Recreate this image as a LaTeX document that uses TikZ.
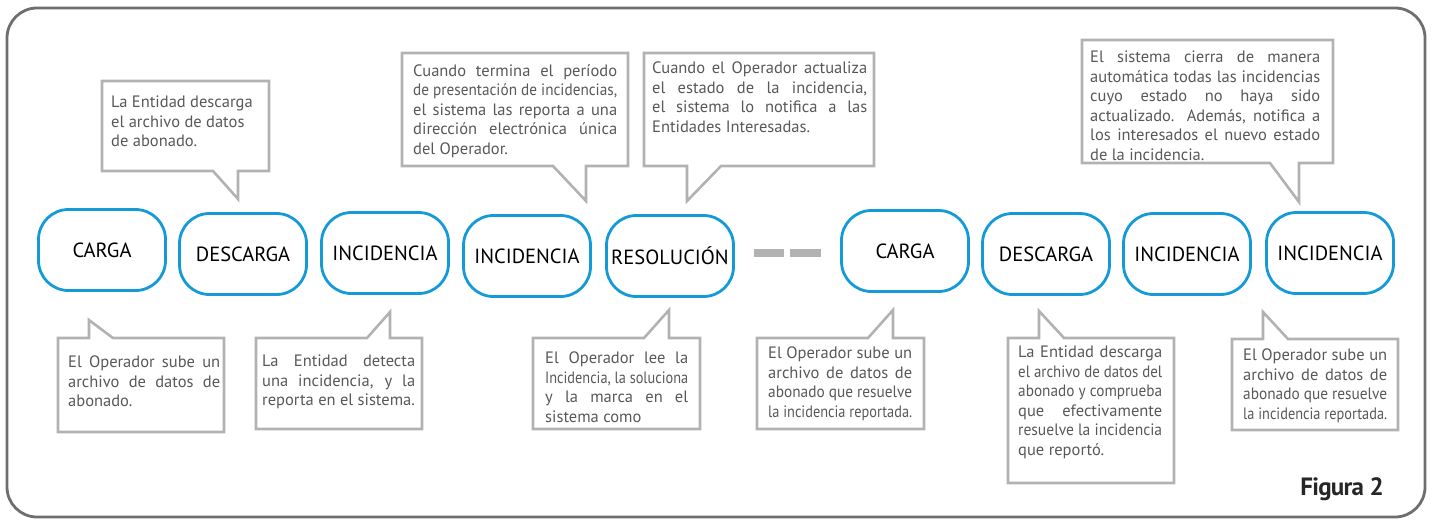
\documentclass[tikz,border=0pt]{standalone}
\usepackage{fontspec}
\setmainfont{PT Sans}
\newfontfamily\figfont[LetterSpace=-3]{PT Sans}
\usepackage{tikz}

\definecolor{azul}{RGB}{20,155,215}
\definecolor{gris}{RGB}{178,178,178}
\definecolor{marco}{RGB}{110,110,110}
\definecolor{textogris}{RGB}{88,88,88}
% un renglon justificado (se comprime si no cabe) y el ultimo renglon
\newsavebox{\cajalinea}
\newcommand{\linea}[1]{\sbox{\cajalinea}{#1}%
  \ifdim\wd\cajalinea>\hsize\resizebox{\hsize}{\height}{#1}\else\hbox to\hsize{#1}\fi\break}
\newcommand{\ultima}[1]{\hbox{#1}}

\begin{document}
\begin{tikzpicture}[x=1pt,y=-1pt]
\tikzstyle{every node}+=[inner sep=0pt]
\tikzstyle{etapa}=[draw=azul, line width=2.8pt, rounded corners=30pt, minimum width=127pt, minimum height=81pt, font=\fontsize{20.5}{24}\selectfont]
\tikzstyle{globo}=[draw=gris, line width=2.6pt, line join=miter]
\tikzstyle{nota}=[anchor=north west, text=textogris, align=justify, font=\fontsize{16.5}{19.5}\selectfont]
\useasboundingbox (0,0) rectangle (1432,520);
\draw [marco, line width=2.8pt, rounded corners=30pt] (7,8) rectangle (1425,517);
% etapas
\node [etapa] (carga1) at (102,250) {CARGA};
\node [etapa] (descarga1) at (243,254) {DESCARGA};
\node [etapa] (incid1) at (385,253) {INCIDENCIA};
\node [etapa] (incid2) at (527,256) {INCIDENCIA};
\node [etapa] (resol) at (670,256) {RESOLUCIÓN};
\node [etapa] (carga2) at (905,251) {CARGA};
\node [etapa] (descarga2) at (1046,254) {DESCARGA};
\node [etapa] (incid3) at (1187,254) {INCIDENCIA};
\node [etapa] (incid4) at (1330,253) {INCIDENCIA};
\draw [gris, line width=8pt] (754,253) -- (784,253);
\draw [gris, line width=8pt] (790,253) -- (821,253);
% globos de arriba
\draw [globo] (102,81) -- (269,81) -- (269,171) -- (238,171) -- (238,199) -- (213,171) -- (102,171) -- cycle;
\node [nota, text width=148pt] (notaA) at (111,96) {La Entidad descarga\\el archivo de datos\\de abonado.};
\draw [globo] (402,53) -- (628,53) -- (628,166) -- (586,166) -- (586,201) -- (553,166) -- (402,166) -- cycle;
\node [nota, text width=204pt] (notaB) at (413,64) {\linea{Cuando termina el período}\linea{de presentación de incidencias,}\linea{el sistema las reporta a una}\linea{dirección electrónica única}\ultima{del Operador.}};
\draw [globo] (644,53) -- (874,53) -- (874,166) -- (721,166) -- (687,201) -- (687,166) -- (644,166) -- cycle;
\node [nota, text width=215pt] (notaC) at (652,62) {\linea{Cuando el Operador actualiza}\linea{el estado de la incidencia,}\linea{el sistema lo notifica a las}\ultima{Entidades Interesadas.}};
\draw [globo] (1082,40) -- (1333,40) -- (1333,163) -- (1299,163) -- (1299,202) -- (1270,163) -- (1082,163) -- cycle;
\node [nota, text width=230pt] (notaD) at (1090,51) {\linea{El sistema cierra de manera}\linea{automática todas las incidencias}\linea{cuyo estado no haya sido}\linea{actualizado. Además, notifica a}\linea{los interesados el nuevo estado}\ultima{de la incidencia.}};
% globos de abajo
\draw [globo] (58,338) -- (89,338) -- (89,320) -- (113,338) -- (224,338) -- (224,432) -- (58,432) -- cycle;
\node [nota, text width=152pt] (notaE) at (68,356) {\linea{El Operador sube un}\linea{archivo de datos de}\ultima{abonado.}};
\draw [globo] (256,338) -- (367,338) -- (390,312) -- (390,338) -- (422,338) -- (422,429) -- (256,429) -- cycle;
\node [nota, text width=153pt] (notaF) at (262,355) {\linea{La Entidad detecta}\linea{una incidencia, y la}\ultima{reporta en el sistema.}};
\draw [globo] (533,338) -- (644,338) -- (669,310) -- (669,338) -- (700,338) -- (700,429) -- (533,429) -- cycle;
\node [nota, text width=143pt] (notaG) at (545,352) {\linea{El Operador lee la}\linea{Incidencia, la soluciona}\linea{y la marca en el}\ultima{sistema como}};
\draw [globo] (757,338) -- (868,338) -- (893,310) -- (893,338) -- (924,338) -- (924,429) -- (757,429) -- cycle;
\node [nota, text width=144pt] (notaH) at (768,347) {\linea{El Operador sube un}\linea{archivo de datos de}\linea{abonado que resuelve}\linea{la incidencia reportada.}};
\draw [globo] (1008,338) -- (1039,338) -- (1039,311) -- (1064,338) -- (1174,338) -- (1174,483) -- (1008,483) -- cycle;
\node [nota, text width=144pt] (notaI) at (1018,346) {\linea{La Entidad descarga}\linea{el archivo de datos del}\linea{abonado y comprueba}\linea{que efectivamente}\linea{resuelve la incidencia}\ultima{que reportó.}};
\draw [globo] (1232,339) -- (1263,339) -- (1263,312) -- (1288,339) -- (1398,339) -- (1398,430) -- (1232,430) -- cycle;
\node [nota, text width=144pt] (notaJ) at (1243,349) {\linea{El Operador sube un}\linea{archivo de datos de}\linea{abonado que resuelve}\linea{la incidencia reportada.}};
\node [anchor=base east, text=black!85] (figura) at (1384,495) {\figfont\bfseries\fontsize{25}{25}\selectfont Figura 2};
\end{tikzpicture}
\end{document}
